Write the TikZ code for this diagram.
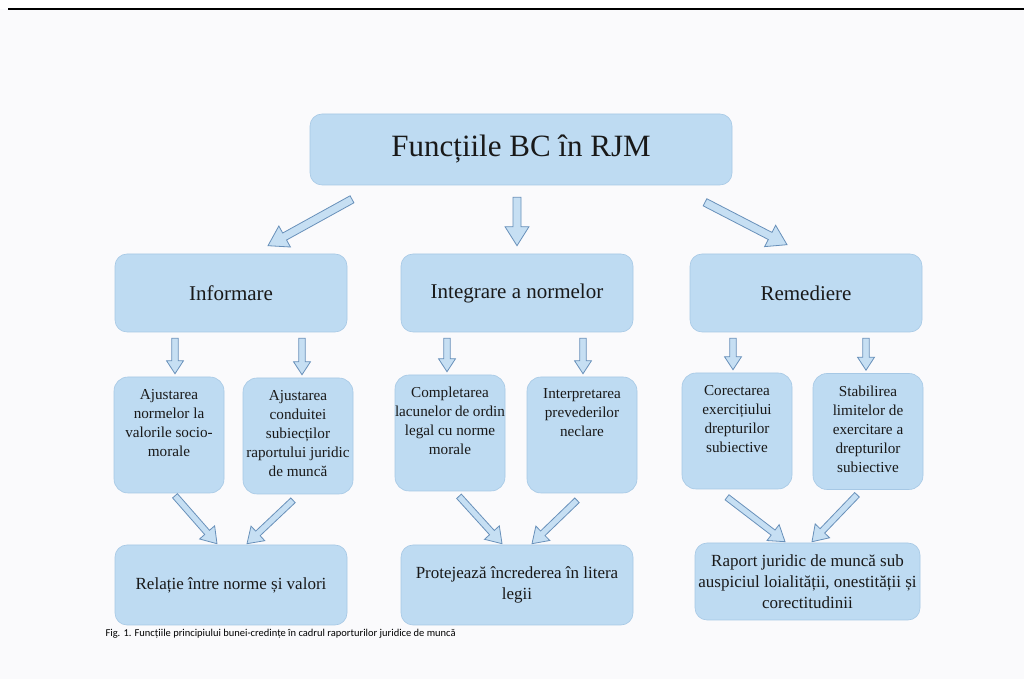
\documentclass[tikz,border=0pt]{standalone}
\usepackage{fontspec}
\setmainfont{Liberation Serif}
\newfontfamily\capfont{Carlito}
\usetikzlibrary{calc}

\definecolor{boxblue}{RGB}{190,219,242}
\definecolor{boxedge}{RGB}{166,200,229}
\definecolor{arrowfill}{RGB}{198,223,243}
\definecolor{arrowline}{RGB}{104,144,186}
\definecolor{paper}{RGB}{250,250,252}

\def\funclist{{(231,386)/inf/Informare}, {(517,386)/integ/Integrare a normelor}, {(806,386)/rem/Remediere}}
\def\leaflist{{(169,244)/aj1/{Ajustarea\\ normelor la\\ valorile socio-\\ morale}},
  {(298,243)/aj2/{Ajustarea\\ conduitei\\ subiecților\\ raportului juridic\\ de muncă}},
  {(450,246)/compl/{Completarea\\ lacunelor de ordin\\ legal cu norme\\ morale}},
  {(582,244)/interp/{Interpretarea\\ prevederilor\\ neclare}},
  {(737,248)/corect/{Corectarea\\ exercițiului\\ drepturilor\\ subiective}},
  {(868,247.5)/stabil/{Stabilirea\\ limitelor de\\ exercitare a\\ drepturilor\\ subiective}}}
\def\downlist{inf/aj1/6, inf/aj2/4, integ/compl/-3, integ/interp/1, rem/corect/-4, rem/stabil/-2}
\def\joinlist{aj1/rel/6/-2.5/-14, aj2/rel/-5/-6/16, compl/prot/9/-5/-15, interp/prot/-5/-7/15, corect/raport/-10/-8/-22.5, stabil/raport/-11/-5/4.5}

\tikzstyle{box}=[rounded corners=12pt,fill=boxblue,draw=boxedge,line width=0.6pt,align=center,inner sep=0pt,text=black!90]
\tikzstyle{head}=[box,minimum width=422pt,minimum height=71pt,font=\fontsize{31}{36}\selectfont]
\tikzstyle{func}=[box,minimum width=232pt,minimum height=78pt,font=\fontsize{21}{25}\selectfont]
\tikzstyle{leaf}=[box,rounded corners=14pt,font=\fontsize{15.2}{19}\selectfont]
\tikzstyle{result}=[box,minimum width=232pt,minimum height=80pt,font=\fontsize{17}{21}\selectfont]
\tikzstyle{arrowbody}=[fill=arrowfill,draw=arrowline,line width=0.8pt]

\newcommand{\leaftext}[1]{\parbox[c][116pt][t]{110pt}{\centering\vspace*{12pt}#1}}
% tail, tip, shaft half width, head half width, head length
\newcommand{\blockarrow}[5]{%
  \coordinate (ba-s) at #1;
  \coordinate (ba-t) at #2;
  \coordinate (ba-m) at ($(ba-t)!#5!(ba-s)$);
  \path[arrowbody] ($(ba-s)!#3!90:(ba-t)$) -- ($(ba-m)!#3!90:(ba-t)$) -- ($(ba-m)!#4!90:(ba-t)$)
    -- (ba-t) -- ($(ba-m)!#4!-90:(ba-t)$) -- ($(ba-m)!#3!-90:(ba-t)$) -- ($(ba-s)!#3!-90:(ba-t)$) -- cycle;
}

\begin{document}
\begin{tikzpicture}[x=1pt,y=1pt]
  \useasboundingbox[fill=paper] (0,0) rectangle (1024,679);
  \fill[white] (0,670) rectangle (1024,679);
  \draw[line width=2.5pt] (8,670) -- (1024,670);

  % First we draw the boxes
  \node[head] (top) at (521,529.5) {Funcțiile BC în RJM};

  \foreach \pos/\name/\txt in \funclist
    \node[func] (\name) at \pos {\txt};

  \foreach \pos/\name/\txt in \leaflist
    \node[leaf] (\name) at \pos {\leaftext{\txt}};

  \node[result] (rel) at (231,94) {Relație între norme și valori};
  \node[result] (prot) at (517,94) {Protejează încrederea în litera\\ legii};
  \node[result,minimum width=225pt,minimum height=77pt] (raport) at (807.5,97.5)
    {Raport juridic de muncă sub\\ auspiciul loialității, onestității și\\ corectitudinii};

  % Connect boxes with block arrows
  \blockarrow{($(top.south)+(-169,-14)$)}{($(inf.north)+(37,8)$)}{4pt}{12pt}{19pt}
  \blockarrow{($(top.south)+(-4,-12)$)}{($(integ.north)+(0,8)$)}{4pt}{12pt}{19pt}
  \blockarrow{($(top.south)+(184,-17)$)}{($(rem.north)+(-19,9)$)}{4pt}{12pt}{19pt}

  \foreach \parent/\child/\dx in \downlist {
    \blockarrow{($(\child.north |- \parent.south)+(\dx,-6)$)}{($(\child.north)+(\dx,3)$)}{3.2pt}{8.5pt}{13pt}
  }

  \foreach \child/\res/\sx/\sy/\tx in \joinlist {
    \blockarrow{($(\child.south)+(\sx,\sy)$)}{($(\res.north)+(\tx,1)$)}{3.2pt}{10pt}{15pt}
  }

  \node[anchor=base west,font=\capfont\fontsize{10.5}{12}\selectfont] (caption) at (102,42)
    {Fig. 1. Funcțiile principiului bunei-credințe în cadrul raporturilor juridice de muncă};
\end{tikzpicture}
\end{document}
